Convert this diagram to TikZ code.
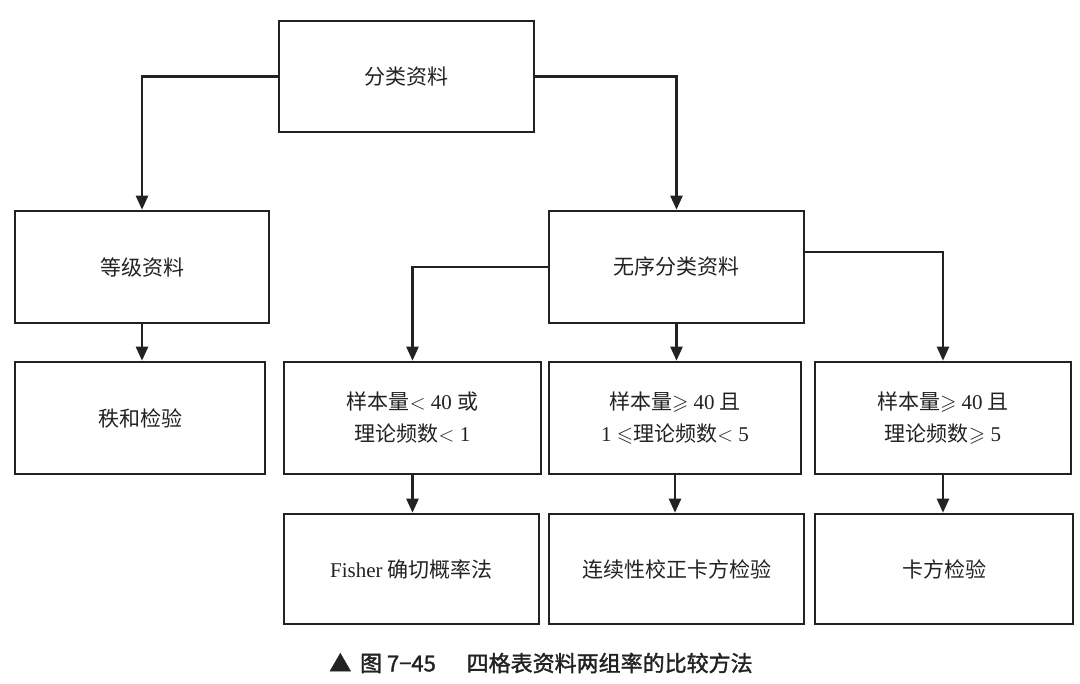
\documentclass[tikz,border=0pt]{standalone}
\usepackage{amssymb}
\usepackage{fontspec}
\setmainfont{Liberation Serif}
\newfontfamily\cjk{Noto Sans CJK SC}
\newfontfamily\cjkb{Noto Sans CJK SC}[FakeBold=1.5]
\usetikzlibrary{arrows.meta}
\definecolor{ink}{HTML}{222222}
\tikzset{
  box/.style={draw=ink, line width=2.6pt, rectangle, inner sep=0pt, align=center,
    text=ink, font=\fontsize{21}{32}\selectfont},
  conn/.style={draw=ink, line width=2.4pt, -{Triangle[width=12pt,length=14pt]}}
}
\begin{document}
\begin{tikzpicture}[x=1pt,y=-1pt]
\useasboundingbox[fill=white] (0,0) rectangle (1080,684);
\node[box, minimum width=255pt, minimum height=111pt] (a) at (406.5,76.5) {\cjk 分类资料};
\node[box, minimum width=254pt, minimum height=112pt] (b) at (142,267) {\cjk 等级资料};
\node[box, minimum width=255pt, minimum height=112pt] (c) at (676.5,267) {\cjk 无序分类资料};
\node[box, minimum width=250pt, minimum height=112pt] (d) at (140,418) {\cjk 秩和检验};
\node[box, minimum width=257pt, minimum height=112pt] (e) at (412.5,418) {{\cjk 样本量}$<$ 40 {\cjk 或}\\{\cjk 理论频数}$<$ 1};
\node[box, minimum width=252pt, minimum height=112pt] (f) at (675,418) {{\cjk 样本量}$\geqslant$ 40 {\cjk 且}\\1 $\leqslant${\cjk 理论频数}$<$ 5};
\node[box, minimum width=256pt, minimum height=112pt] (g) at (943,418) {{\cjk 样本量}$\geqslant$ 40 {\cjk 且}\\{\cjk 理论频数}$\geqslant$ 5};
\node[box, minimum width=255pt, minimum height=110pt] (h) at (411.5,569) {Fisher {\cjk 确切概率法}};
\node[box, minimum width=255pt, minimum height=110pt] (i) at (676.5,569) {\cjk 连续性校正卡方检验};
\node[box, minimum width=258pt, minimum height=110pt] (j) at (944,569) {\cjk 卡方检验};
\node[text=ink, font=\fontsize{22}{26}\selectfont\cjkb, anchor=center] (cap) at (541,663) {▲\hspace{0.4em}图 7−45\hspace{1.4em}四格表资料两组率的比较方法};
\draw[conn] (a.west) -| (b.north);
\draw[conn] (a.east) -| (c.north);
\draw[conn] (b.south) -- (b.south |- d.north);
\draw[conn] (c.west) -| (e.north);
\draw[conn] (c.south) -- (c.south |- f.north);
\draw[conn] ([yshift=15pt]c.east) -| (g.north);
\draw[conn] (e.south) -- (e.south |- h.north);
\draw[conn] (f.south) -- (f.south |- i.north);
\draw[conn] (g.south) -- (g.south |- j.north);
\end{tikzpicture}
\end{document}
